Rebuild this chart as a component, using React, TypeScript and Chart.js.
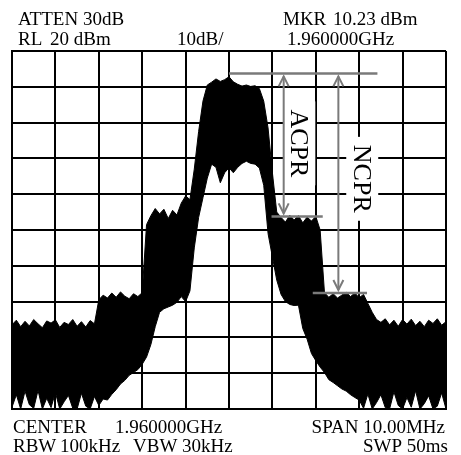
import React, { useEffect, useRef } from "react";
import { Chart, registerables } from "chart.js";

Chart.register(...registerables);

// Frequency offset from centre (MHz), 0.1 MHz steps from -5 to +5
const FREQ_START = -5;
const FREQ_STEP = 0.1;

// Upper envelope of the trace (dBm)
const upperTrace = [
  -56.5, -55.2, -57.0, -55.5, -56.8, -55.0, -56.2, -57.3, -55.4, -56.0,
  -55.1, -57.2, -55.8, -56.4, -55.0, -56.9, -55.6, -57.1, -55.3, -56.2,
  -49.5, -48.2, -49.0, -47.6, -48.8, -47.3, -48.5, -49.2, -47.8, -48.6, -47.5,
  -28.5, -26.0, -24.0, -25.5, -24.2, -26.8, -24.5, -25.8, -22.5, -20.5,
  -21.5, -13.0, -2.5, 6.0, 10.5, 11.3, 12.2, 11.5, 12.0, 12.8,
  11.4, 10.7, 10.2, 10.5, 10.1, 10.3, 9.5, 6.0, -1.5, -14.0, -25.0,
  -26.5, -27.8, -25.9, -27.2, -26.0, -28.0, -26.4, -27.5, -26.2,
  -30.0,
  -47.5, -48.8, -47.8, -49.0, -48.2, -47.4, -48.6, -47.6, -48.9, -48.0,
  -50.5, -53.0, -55.0,
  -55.8, -54.8, -56.5, -55.2, -56.9, -55.0, -56.3, -54.9, -56.7, -55.5,
  -57.0, -55.2, -56.1, -54.8, -56.6, -55.6,
];

// Lower envelope of the trace (dBm)
const lowerTrace = [
  -79.5, -76.0, -80.0, -75.0, -78.8, -79.8, -74.8, -80.0, -77.0, -79.6,
  -75.4, -80.0, -78.0, -76.2, -79.8, -80.0, -75.6, -79.2, -80.0, -76.5,
  -79.0, -77.2,
  -77.5, -75.9, -74.6, -73.0, -72.0, -70.6, -69.8, -69.0, -67.5, -65.5,
  -62.0, -57.0, -53.0, -52.0, -51.5, -51.0, -50.2, -48.6, -50.0, -47.0,
  -35.0, -26.5, -21.0, -15.5,
  -11.6, -12.5, -16.8, -14.0, -12.6, -14.0, -12.5, -11.4, -10.8, -11.4,
  -11.6, -12.7, -17.5, -31.0, -37.5, -44.0, -48.0, -50.0, -50.8, -51.1,
  -51.0, -57.5, -60.5, -64.5, -66.5, -68.3, -69.8, -71.8, -72.6, -73.5,
  -74.4, -75.0, -76.0, -76.8,
  -77.5, -79.8, -75.8, -80.0, -78.2, -76.0, -79.6, -80.0, -75.2, -79.0,
  -80.0, -76.8, -79.5, -74.9, -80.0, -78.5, -76.3, -80.0, -79.2, -75.5,
  -80.0,
];

// Axis ranges
const FREQ_MIN = -5;
const FREQ_MAX = 5;
const LEVEL_MIN = -80;
const LEVEL_MAX = 20;

// Annotation data (frequency MHz, level dBm)
const topLine = { level: 13.75, from: 0.0, to: 3.42 };
const acprArrow = { freq: 1.26, top: 13.75, bottom: -26.2 };
const acprLine = { level: -26.2, from: 0.98, to: 2.16 };
const ncprArrow = { freq: 2.52, top: 13.75, bottom: -47.6 };
const ncprLine = { level: -47.6, from: 1.93, to: 3.18 };
const acprLabel = { text: "ACPR", freq: 1.62, level: -5.8 };
const ncprLabel = { text: "NCPR", freq: 3.07, level: -15.7 };

// Instrument read-out texts
const headerTexts = [
  { text: "ATTEN 30dB", x: 18, y: 25, align: "left" },
  { text: "MKR", x: 283, y: 25, align: "left" },
  { text: "10.23 dBm", x: 333, y: 25, align: "left" },
  { text: "RL", x: 18, y: 45, align: "left" },
  { text: "20 dBm", x: 50, y: 45, align: "left" },
  { text: "10dB/", x: 177, y: 45, align: "left" },
  { text: "1.960000GHz", x: 287, y: 45, align: "left" },
  { text: "CENTER", x: 13, y: 433, align: "left" },
  { text: "1.960000GHz", x: 115, y: 433, align: "left" },
  { text: "SPAN 10.00MHz", x: 445, y: 433, align: "right" },
  { text: "RBW", x: 13, y: 452, align: "left" },
  { text: "100kHz", x: 60, y: 452, align: "left" },
  { text: "VBW", x: 133, y: 452, align: "left" },
  { text: "30kHz", x: 182, y: 452, align: "left" },
  { text: "SWP 50ms", x: 448, y: 452, align: "right" },
];

const FONT = '"Liberation Serif", "Times New Roman", serif';
const GRAY = "#7a7a7a";

const annotationPlugin = {
  id: "spectrumAnnotations",
  afterDatasetsDraw(chart: any) {
    const ctx = chart.ctx as CanvasRenderingContext2D;
    const xs = chart.scales.x;
    const ys = chart.scales.y;
    const px = (f: number) => xs.getPixelForValue(f);
    const py = (l: number) => ys.getPixelForValue(l);

    ctx.save();
    // label backgrounds
    const drawLabel = (lab: { text: string; freq: number; level: number }) => {
      const cx = px(lab.freq);
      const cy = py(lab.level);
      ctx.font = `26px ${FONT}`;
      const w = ctx.measureText(lab.text).width;
      ctx.fillStyle = "#ffffff";
      ctx.fillRect(cx - 16, cy - w / 2 - 8, 32, w + 16);
      ctx.save();
      ctx.translate(cx, cy);
      ctx.rotate(Math.PI / 2);
      ctx.fillStyle = "#000000";
      ctx.textAlign = "center";
      ctx.textBaseline = "middle";
      ctx.fillText(lab.text, 0, 1);
      ctx.restore();
    };
    drawLabel(acprLabel);
    drawLabel(ncprLabel);

    ctx.strokeStyle = GRAY;
    ctx.lineWidth = 2.5;
    ctx.lineCap = "butt";
    const hLine = (l: { level: number; from: number; to: number }) => {
      ctx.beginPath();
      ctx.moveTo(px(l.from), py(l.level));
      ctx.lineTo(px(l.to), py(l.level));
      ctx.stroke();
    };
    hLine(topLine);
    hLine(acprLine);
    hLine(ncprLine);

    const arrow = (a: { freq: number; top: number; bottom: number }) => {
      const x = px(a.freq);
      const y1 = py(a.top) + 3;
      const y2 = py(a.bottom) - 3;
      ctx.lineWidth = 2;
      ctx.beginPath();
      ctx.moveTo(x, y1);
      ctx.lineTo(x, y2);
      ctx.stroke();
      ctx.beginPath();
      ctx.moveTo(x - 5, y1 + 10);
      ctx.lineTo(x, y1);
      ctx.lineTo(x + 5, y1 + 10);
      ctx.stroke();
      ctx.beginPath();
      ctx.moveTo(x - 5, y2 - 10);
      ctx.lineTo(x, y2);
      ctx.lineTo(x + 5, y2 - 10);
      ctx.stroke();
    };
    arrow(acprArrow);
    arrow(ncprArrow);

    // instrument read-outs
    ctx.font = `19px ${FONT}`;
    ctx.fillStyle = "#000000";
    ctx.textBaseline = "alphabetic";
    for (const t of headerTexts) {
      ctx.textAlign = t.align as CanvasTextAlign;
      ctx.fillText(t.text, t.x, t.y);
    }
    ctx.restore();
  },
};

export default function App() {
  const canvasRef = useRef<HTMLCanvasElement | null>(null);

  useEffect(() => {
    document.body.style.margin = "0";
    const canvas = canvasRef.current;
    if (!canvas) return;
    const freqs = upperTrace.map((_, i) => +(FREQ_START + i * FREQ_STEP).toFixed(2));
    const chart = new Chart(canvas, {
      type: "line",
      data: {
        datasets: [
          {
            label: "upper",
            data: freqs.map((f, i) => ({ x: f, y: upperTrace[i] })),
            borderColor: "#000000",
            backgroundColor: "#000000",
            borderWidth: 1,
            pointRadius: 0,
            tension: 0,
            fill: "+1",
          },
          {
            label: "lower",
            data: freqs.map((f, i) => ({ x: f, y: lowerTrace[i] })),
            borderColor: "#000000",
            backgroundColor: "#000000",
            borderWidth: 1,
            pointRadius: 0,
            tension: 0,
            fill: false,
          },
        ],
      },
      options: {
        responsive: false,
        animation: false,
        devicePixelRatio: 1,
        layout: { padding: { left: 12, top: 51, right: 15, bottom: 46 } },
        plugins: {
          legend: { display: false },
          tooltip: { enabled: false },
          title: { display: false },
        },
        scales: {
          x: {
            type: "linear",
            min: FREQ_MIN,
            max: FREQ_MAX,
            ticks: { display: false, stepSize: 1 },
            grid: { color: "#000000", lineWidth: 2, drawTicks: false },
            border: { color: "#000000", width: 2 },
            afterFit: (s: any) => {
              s.height = 0;
            },
          },
          y: {
            type: "linear",
            min: LEVEL_MIN,
            max: LEVEL_MAX,
            ticks: { display: false, stepSize: 10 },
            grid: { color: "#000000", lineWidth: 2, drawTicks: false },
            border: { color: "#000000", width: 2 },
            afterFit: (s: any) => {
              s.width = 0;
            },
          },
        },
      },
      plugins: [annotationPlugin],
    });
    return () => chart.destroy();
  }, []);

  return (
    <div style={{ width: 461, height: 455, background: "#ffffff" }}>
      <canvas ref={canvasRef} width={461} height={455} style={{ display: "block" }} />
    </div>
  );
}
